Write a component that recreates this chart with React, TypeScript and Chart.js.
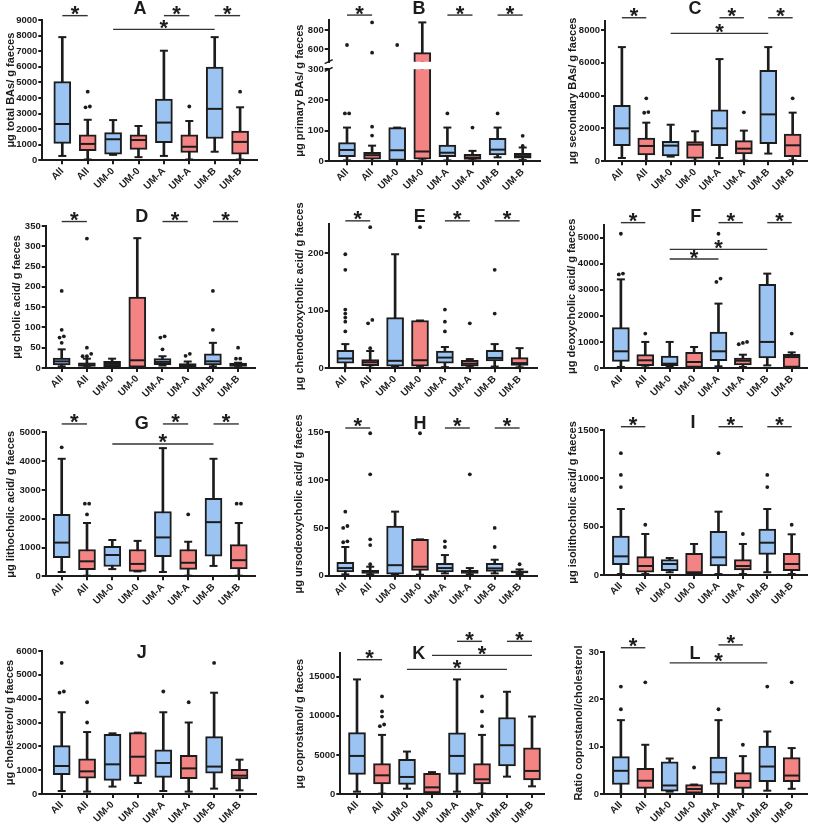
import React, { useEffect, useRef } from 'react';
import { Chart, registerables } from 'chart.js';

Chart.register(...registerables);

const W = 817;
const H = 828;
const FONT = "'Liberation Sans', Arial, Helvetica, sans-serif";
const BLUE = '#9cc4f3';
const RED = '#f48383';
const INK = '#1c1c1c';

// ---------- categories ----------
const CATEGORIES = ['All', 'All', 'UM-0', 'UM-0', 'UM-A', 'UM-A', 'UM-B', 'UM-B'];

// ---------- data: [min, q1, median, q3, max] per group, outliers, significance [i, j, y] ----------
const totalBAsBox = [
  [280, 1090, 2330, 5050, 7900], [50, 620, 1050, 1630, 2600], [350, 400, 1350, 1780, 2580], [200, 700, 1300, 1630, 2200],
  [280, 1130, 2420, 3930, 7030], [50, 500, 870, 1630, 2520], [550, 1400, 3300, 5980, 7900], [50, 400, 1180, 1870, 3400],
];
const totalBAsOut = [[], [4400, 3450, 3400], [], [], [], [3450], [], [4400]];
const totalBAsSig = [[0, 1, 9280], [4, 5, 9280], [6, 7, 9280], [2, 6, 8400]];
const totalBAsTicks = [0, 1000, 2000, 3000, 4000, 5000, 6000, 7000, 8000, 9000];

const primaryBAsBox = [
  [3, 15, 37, 61, 110], [1, 7, 20, 29, 51], [3, 3, 36, 110, 110], [3, 7, 32, 566, 879],
  [3, 15, 28, 53, 110], [3, 6, 12, 23, 34], [13, 21, 38, 75, 110], [4, 10, 17, 26, 45],
];
const primaryBAsOut = [[156, 156, 645], [113, 84, 566, 879], [645], [], [156], [110], [156], [83, 50]];
const primaryBAsSig = [[0, 1, 955], [4, 5, 955], [6, 7, 955]];
const primaryBAsLowTicks = [0, 100, 200, 300];
const primaryBAsHighTicks = [600, 800];

const secondaryBAsBox = [
  [200, 955, 2010, 3410, 6960], [20, 385, 935, 1420, 2355], [285, 325, 955, 1220, 2230], [30, 180, 1015, 1200, 1830],
  [200, 955, 2010, 3130, 6230], [40, 450, 770, 1260, 1870], [470, 1075, 2860, 5540, 6960], [60, 285, 975, 1665, 2965],
];
const secondaryBAsOut = [[], [3840, 3000, 2960], [], [], [], [2985], [], [3840]];
const secondaryBAsSig = [[0, 1, 8750], [4, 5, 8750], [6, 7, 8750], [2, 6, 7800]];
const secondaryBAsTicks = [0, 2000, 4000, 6000, 8000];

const cholicBox = [
  [4, 7.4, 16.4, 24.6, 46], [2, 4, 10, 13, 23], [2, 3, 10, 16.4, 23], [2, 2, 19, 175, 320],
  [6, 8, 15, 23, 29], [1.6, 2.5, 6, 11, 16], [4, 7.4, 16.4, 35, 62], [2, 4, 8, 12, 13],
];
const cholicOut = [[190, 94, 78, 75, 62], [319, 50, 35, 29, 29], [], [], [78, 75, 46], [35, 30], [190, 94], [50, 23, 23]];
const cholicSig = [[0, 1, 361], [4, 5, 361], [6, 7, 361]];
const cholicTicks = [0, 50, 100, 150, 200, 250, 300, 350];

const chenoBox = [
  [0.6, 9, 17, 31, 42], [1, 4.7, 10.5, 15, 30], [3, 3.5, 13, 88, 198], [2, 3.5, 14, 83, 83],
  [2, 9, 18.6, 30, 37], [2, 3.5, 8, 14, 16], [3, 13, 18, 31, 42], [1.7, 5, 9, 18.6, 35],
];
const chenoOut = [[198, 171, 102, 95, 88, 81, 64], [245, 84, 78, 35], [], [245], [102, 81, 64], [78], [171, 95], []];
const chenoSig = [[0, 1, 256], [4, 5, 256], [6, 7, 256]];
const chenoTicks = [0, 100, 200];

const deoxyBox = [
  [40, 255, 640, 1550, 3400], [25, 90, 295, 510, 1000], [40, 90, 165, 460, 1000], [25, 25, 230, 600, 805],
  [65, 280, 640, 1380, 2470], [40, 115, 280, 385, 510], [100, 385, 1000, 3210, 3620], [25, 25, 420, 525, 600],
];
const deoxyOut = [[5150, 3620, 3590], [1320], [], [], [5150, 3430, 3300], [1000, 960, 910], [], [1320]];
const deoxySig = [[0, 1, 5575], [4, 5, 5575], [6, 7, 5575], [2, 6, 4550], [2, 4, 4180]];
const deoxyTicks = [0, 1000, 2000, 3000, 4000, 5000];

const lithoBox = [
  [150, 650, 1170, 2150, 4080], [20, 230, 520, 930, 1850], [250, 340, 740, 1040, 1260], [170, 170, 430, 930, 1230],
  [150, 680, 1350, 2250, 4450], [20, 240, 470, 930, 1200], [360, 700, 1880, 2710, 4080], [20, 260, 560, 1100, 1850],
];
const lithoOut = [[4480], [2520, 2520, 2150], [], [], [], [2150], [], [2520, 2520]];
const lithoSig = [[0, 1, 5290], [4, 5, 5290], [6, 7, 5290], [2, 6, 4595]];
const lithoTicks = [0, 1000, 2000, 3000, 4000, 5000];

const ursoBox = [
  [1.4, 4, 8, 14, 30], [1.4, 2.4, 4, 5.6, 9.4], [1, 1.7, 11, 52, 67], [1, 5.6, 9.4, 38, 38],
  [2.4, 4, 8, 13, 21.6], [1.4, 2.4, 4, 5.6, 8], [2.4, 4.5, 7.7, 13, 16.7], [1.7, 2.8, 3.8, 5.2, 6.6],
];
const ursoOut = [[67, 52, 50, 36, 35], [149, 106, 38, 32, 12], [], [149], [36, 30], [106], [50, 30], [12]];
const ursoSig = [[0, 1, 154.5], [4, 5, 154.5], [6, 7, 154.5]];
const ursoTicks = [0, 50, 100, 150];

const isolithoBox = [
  [10, 107, 193, 403, 683], [10, 28, 93, 190, 424], [28, 45, 114, 159, 176], [14, 14, 28, 224, 321],
  [10, 93, 183, 452, 655], [10, 52, 93, 159, 321], [28, 214, 334, 476, 683], [10, 45, 114, 224, 421],
];
const isolithoOut = [[1260, 1035, 910], [520], [], [], [1260], [424], [1035, 910], [520]];
const isolithoSig = [[0, 1, 1534], [4, 5, 1534], [6, 7, 1534]];
const isolithoTicks = [0, 500, 1000, 1500];

const cholesterolBox = [
  [125, 810, 1175, 2030, 3430], [100, 660, 950, 1480, 2600], [310, 575, 1245, 2500, 2545], [460, 740, 1565, 2575, 2575],
  [125, 700, 1300, 1850, 3430], [100, 645, 1075, 1620, 3000], [225, 870, 1150, 2405, 4250], [155, 630, 770, 1035, 1440],
];
const cholesterolOut = [[5500, 4300, 4250], [3850, 3000], [], [], [4300], [3850], [5500], []];
const cholesterolSig: number[][] = [];
const cholesterolTicks = [0, 1000, 2000, 3000, 4000, 5000, 6000];

const coprostanolBox = [
  [300, 2520, 4870, 7860, 14660], [50, 1280, 2390, 3890, 7560], [680, 1240, 2180, 4440, 5430], [20, 150, 850, 2650, 2800],
  [300, 2520, 4870, 7820, 14660], [50, 1280, 1880, 3890, 7560], [2220, 3590, 6240, 9790, 13080], [980, 1800, 2950, 5900, 9910],
];
const coprostanolOut = [[], [12480, 10560, 9900, 8890, 8680], [], [], [], [12480, 10560, 8680], [], []];
const coprostanolSig = [[0, 1, 17180], [4, 5, 19530], [6, 7, 19530], [3, 7, 17730], [2, 6, 15940]];
const coprostanolTicks = [0, 5000, 10000, 15000];

const ratioBox = [
  [0, 2, 4.9, 7.9, 15.6], [0, 1.2, 2.8, 5.4, 10.4], [0.5, 0.6, 1.8, 6.8, 7.5], [0, 0.2, 1.05, 2.0, 2.0],
  [0, 2, 4.6, 7.8, 15.6], [0, 1.2, 2.75, 4.5, 8], [0.7, 2.6, 5.8, 10.1, 13.2], [1.1, 2.6, 3.9, 7.7, 9.7],
];
const ratioOut = [[22.7, 17.9], [23.6], [], [5.6], [17.9], [10.4], [22.7], [23.6]];
const ratioSig = [[0, 1, 30.9], [4, 5, 31.5], [2, 6, 27.7]];
const ratioTicks = [0, 10, 20, 30];

// ---------- layout (page pixels) ----------
interface Broken { lowMax: number; lowTicks: number[]; highMin: number; highMax: number; highTicks: number[]; weights: number[]; }
interface Panel {
  letter: string; yTitle: string; box: number[][]; out: number[][]; sig: number[][];
  ticks: number[]; yMax: number; area: number[]; firstX: number; stepX: number;
  titleXY: number[]; yTitleX: number; broken?: Broken; sigAxis?: string;
}

const PANELS: Panel[] = [
  { letter: 'A', yTitle: 'μg total BAs/ g faeces', box: totalBAsBox, out: totalBAsOut, sig: totalBAsSig, ticks: totalBAsTicks, yMax: 9000,
    area: [42.3, 20, 257, 160.3], firstX: 62.3, stepX: 25.4, titleXY: [140, 9.5], yTitleX: 11 },
  { letter: 'B', yTitle: 'μg primary BAs/ g faeces', box: primaryBAsBox, out: primaryBAsOut, sig: primaryBAsSig, ticks: [], yMax: 300,
    area: [328.7, 20, 540, 161.3], firstX: 347, stepX: 25.1, titleXY: [419, 9], yTitleX: 300, sigAxis: 'yHigh',
    broken: { lowMax: 300, lowTicks: primaryBAsLowTicks, highMin: 472, highMax: 904, highTicks: primaryBAsHighTicks, weights: [41.7, 7.6, 92] } },
  { letter: 'C', yTitle: 'μg secondary BAs/ g faeces', box: secondaryBAsBox, out: secondaryBAsOut, sig: secondaryBAsSig, ticks: secondaryBAsTicks, yMax: 8570,
    area: [605, 20.7, 812, 161.3], firstX: 622.3, stepX: 25, titleXY: [695, 9], yTitleX: 573 },
  { letter: 'D', yTitle: 'μg cholic acid/ g faeces', box: cholicBox, out: cholicOut, sig: cholicSig, ticks: cholicTicks, yMax: 350,
    area: [45.7, 226, 255, 368], firstX: 61.7, stepX: 25.2, titleXY: [141.7, 217], yTitleX: 16.7 },
  { letter: 'E', yTitle: 'μg chenodeoxycholic acid/ g faeces', box: chenoBox, out: chenoOut, sig: chenoSig, ticks: chenoTicks, yMax: 250,
    area: [328.7, 224.3, 537, 368.3], firstX: 345.3, stepX: 24.9, titleXY: [419.7, 217], yTitleX: 299.5 },
  { letter: 'F', yTitle: 'μg deoxycholic acid/ g faeces', box: deoxyBox, out: deoxyOut, sig: deoxySig, ticks: deoxyTicks, yMax: 5500,
    area: [604, 224.6, 812, 368], firstX: 621.3, stepX: 25, titleXY: [695.7, 217], yTitleX: 571.5 },
  { letter: 'G', yTitle: 'μg lithocholic acid/ g faeces', box: lithoBox, out: lithoOut, sig: lithoSig, ticks: lithoTicks, yMax: 5000,
    area: [45.7, 432.3, 255, 576.3], firstX: 61.7, stepX: 25.3, titleXY: [141.7, 424], yTitleX: 11 },
  { letter: 'H', yTitle: 'μg ursodeoxycholic acid/ g faeces', box: ursoBox, out: ursoOut, sig: ursoSig, ticks: ursoTicks, yMax: 150,
    area: [328.7, 432.3, 537, 575.7], firstX: 345.3, stepX: 24.9, titleXY: [420, 424], yTitleX: 299 },
  { letter: 'I', yTitle: 'μg isolithocholic acid/ g faeces', box: isolithoBox, out: isolithoOut, sig: isolithoSig, ticks: isolithoTicks, yMax: 1500,
    area: [604, 430, 812, 575], firstX: 621.3, stepX: 25, titleXY: [693, 423], yTitleX: 573 },
  { letter: 'J', yTitle: 'μg cholesterol/ g faeces', box: cholesterolBox, out: cholesterolOut, sig: cholesterolSig, ticks: cholesterolTicks, yMax: 6000,
    area: [42.3, 651, 256, 794], firstX: 61.7, stepX: 25.4, titleXY: [141.7, 652.7], yTitleX: 10 },
  { letter: 'K', yTitle: 'μg coprostanol/ g faeces', box: coprostanolBox, out: coprostanolOut, sig: coprostanolSig, ticks: coprostanolTicks, yMax: 18000,
    area: [340.3, 653.3, 544, 794], firstX: 357, stepX: 25, titleXY: [418.7, 654.3], yTitleX: 300 },
  { letter: 'L', yTitle: 'Ratio coprostanol/cholesterol', box: ratioBox, out: ratioOut, sig: ratioSig, ticks: ratioTicks, yMax: 30,
    area: [604, 652, 812, 794], firstX: 621.3, stepX: 25, titleXY: [695, 654], yTitleX: 578.7 },
];

const FILLS = CATEGORIES.map((_, i) => (i % 2 === 0 ? BLUE : RED));
const Y_AXIS_W = 40;
const X_AXIS_H = 30;

interface AxisDef { id: string; min: number; max: number; ticks: number[]; weight?: number; stackWeight?: number; gap?: boolean; }

function spreadOutliers(out: number[][], a: AxisDef, pxPerUnit: number) {
  const pts: { x: number; y: number }[] = [];
  out.forEach((vals, i) => {
    const sorted = vals.filter((v) => v >= a.min && v <= a.max).sort((p, q) => p - q);
    let k = 0;
    while (k < sorted.length) {
      let e = k;
      while (e + 1 < sorted.length && (sorted[e + 1] - sorted[e]) * pxPerUnit < 3.5) e++;
      const n = e - k + 1;
      for (let m = 0; m < n; m++) pts.push({ x: i + (m - (n - 1) / 2) * 0.17, y: sorted[k + m] });
      k = e + 1;
    }
  });
  return pts;
}

function buildChart(canvas: HTMLCanvasElement, p: Panel) {
  const [L, T, R, B] = p.area;
  const xMin = -(p.firstX - L) / p.stepX;
  const xMax = xMin + (R - L) / p.stepX;
  const areaH = B - T;

  const axes: AxisDef[] = p.broken
    ? [
        { id: 'yHigh', min: p.broken.highMin, max: p.broken.highMax, ticks: p.broken.highTicks, weight: 2, stackWeight: p.broken.weights[0] },
        { id: 'yGap', min: 0, max: 1, ticks: [], weight: 1, stackWeight: p.broken.weights[1], gap: true },
        { id: 'yLow', min: 0, max: p.broken.lowMax, ticks: p.broken.lowTicks, weight: 0, stackWeight: p.broken.weights[2] },
      ]
    : [{ id: 'y', min: 0, max: p.yMax, ticks: p.ticks }];
  const totalWeight = axes.reduce((s, a) => s + (a.stackWeight ?? 1), 0);

  const scales: any = {
    x: {
      type: 'linear', min: xMin, max: xMax, offset: false,
      afterBuildTicks: (s: any) => { s.ticks = CATEGORIES.map((_, i) => ({ value: i })); },
      afterFit: (s: any) => { s.height = X_AXIS_H; },
      grid: { display: true, drawOnChartArea: false, drawTicks: true, tickLength: 4, color: INK, lineWidth: 2, offset: false },
      border: { display: true, color: INK, width: 2 },
      ticks: {
        autoSkip: false, maxRotation: 45, minRotation: 45, padding: 1, color: INK,
        font: { family: FONT, size: 10, weight: 'bold' },
        callback: (v: number) => CATEGORIES[v] ?? '',
      },
    },
  };

  const datasets: any[] = [];
  for (const a of axes) {
    scales[a.id] = {
      type: 'linear', position: 'left', min: a.min, max: a.max,
      ...(p.broken ? { stack: 'v', stackWeight: a.stackWeight, weight: a.weight } : {}),
      afterBuildTicks: (s: any) => { s.ticks = a.ticks.map((v) => ({ value: v })); },
      afterFit: (s: any) => { s.width = Y_AXIS_W; },
      grid: { display: !a.gap, drawOnChartArea: false, drawTicks: true, tickLength: 4, color: INK, lineWidth: 2 },
      border: { display: !a.gap, color: INK, width: 2 },
      ticks: { display: !a.gap, padding: 1, color: INK, font: { family: FONT, size: 9.5, weight: 'bold' }, callback: (v: number) => String(v) },
    };
    if (a.gap) continue;
    const inR = (v: number) => v >= a.min - 1e-9 && v <= a.max + 1e-9;
    const pxPerUnit = (areaH * ((a.stackWeight ?? 1) / totalWeight)) / (a.max - a.min);
    datasets.push({
      type: 'bar', yAxisID: a.id, data: p.box.map((b, i) => ({ x: i, y: [b[0], b[4]] })),
      backgroundColor: INK, borderWidth: 0, barThickness: 2, grouped: false, order: 4,
    });
    datasets.push({
      type: 'bar', yAxisID: a.id, data: p.box.map((b, i) => ({ x: i, y: [b[1], b[3]] })),
      backgroundColor: FILLS, borderColor: INK, borderWidth: 2, borderSkipped: false, barThickness: 17, grouped: false, order: 3,
    });
    datasets.push({
      type: 'scatter', yAxisID: a.id, clip: false, order: 2,
      data: p.box.flatMap((b, i) => [{ x: i, y: b[0] }, { x: i, y: b[4] }]).filter((pt) => inR(pt.y)),
      pointStyle: 'line', pointRadius: 4, pointHoverRadius: 4, pointBorderWidth: 2, pointBorderColor: INK,
    });
    datasets.push({
      type: 'scatter', yAxisID: a.id, clip: false, order: 1,
      data: p.box.map((b, i) => ({ x: i, y: b[2] })).filter((pt) => inR(pt.y)),
      pointStyle: 'line', pointRadius: 8, pointHoverRadius: 8, pointBorderWidth: 2, pointBorderColor: INK,
    });
    datasets.push({
      type: 'scatter', yAxisID: a.id, clip: false, order: 0,
      data: spreadOutliers(p.out, a, pxPerUnit),
      pointStyle: 'circle', pointRadius: 1.9, pointHoverRadius: 1.9, pointBorderWidth: 0, pointBackgroundColor: INK,
    });
  }

  const annotate = {
    id: 'annotate',
    afterDraw(chart: any) {
      const ctx: CanvasRenderingContext2D = chart.ctx;
      const area = chart.chartArea;
      const xs = chart.scales.x;
      const ys = chart.scales[p.sigAxis ?? 'y'];
      ctx.save();
      ctx.fillStyle = INK;
      // y-axis title
      ctx.save();
      ctx.font = `bold 11px ${FONT}`;
      ctx.textAlign = 'center';
      ctx.textBaseline = 'middle';
      ctx.translate(p.yTitleX, (area.top + area.bottom) / 2);
      ctx.rotate(-Math.PI / 2);
      ctx.fillText(p.yTitle, 0, 0);
      ctx.restore();
      // panel letter
      ctx.font = `bold 18px ${FONT}`;
      ctx.textAlign = 'center';
      ctx.textBaseline = 'middle';
      ctx.fillText(p.letter, p.titleXY[0], p.titleXY[1]);
      // significance bars
      for (const [i, j, v] of p.sig) {
        const x1 = xs.getPixelForValue(i);
        const x2 = xs.getPixelForValue(j);
        const y = ys.getPixelForValue(v);
        ctx.strokeStyle = '#333';
        ctx.lineWidth = 1.4;
        ctx.beginPath();
        ctx.moveTo(x1, y);
        ctx.lineTo(x2, y);
        ctx.stroke();
        ctx.font = `bold 22px ${FONT}`;
        ctx.textAlign = 'center';
        ctx.textBaseline = 'alphabetic';
        ctx.fillText('*', (x1 + x2) / 2, y + 5.5);
      }
      // axis break marks
      if (p.broken) {
        const lo = chart.scales.yLow;
        const hi = chart.scales.yHigh;
        const x = area.left;
        ctx.strokeStyle = INK;
        ctx.lineWidth = 1.5;
        for (const y of [lo.top, hi.bottom]) {
          ctx.beginPath();
          ctx.moveTo(x - 4, y + 2);
          ctx.lineTo(x + 4, y - 2);
          ctx.stroke();
        }
      }
      ctx.restore();
    },
  };

  return new Chart(canvas, {
    type: 'bar',
    data: { datasets },
    options: {
      responsive: false,
      animation: false,
      devicePixelRatio: 1,
      events: [],
      layout: { padding: { left: L - Y_AXIS_W, top: T, right: W - R, bottom: H - B - X_AXIS_H } },
      plugins: { legend: { display: false }, tooltip: { enabled: false }, title: { display: false } },
      scales,
    } as any,
    plugins: [annotate],
  });
}

function PanelChart({ panel }: { panel: Panel }) {
  const ref = useRef<HTMLCanvasElement>(null);
  useEffect(() => {
    if (!ref.current) return;
    const chart = buildChart(ref.current, panel);
    return () => chart.destroy();
  }, [panel]);
  return (
    <canvas
      ref={ref}
      width={W}
      height={H}
      style={{ position: 'absolute', left: 0, top: 0, width: W, height: H, pointerEvents: 'none' }}
    />
  );
}

export default function App() {
  return (
    <div style={{ position: 'absolute', left: 0, top: 0, width: W, height: H, background: '#fff', overflow: 'hidden' }}>
      {PANELS.map((p) => (
        <PanelChart key={p.letter} panel={p} />
      ))}
    </div>
  );
}
